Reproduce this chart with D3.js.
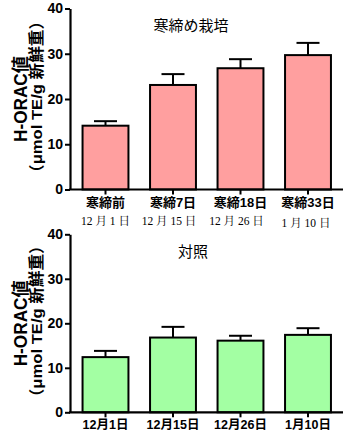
<!DOCTYPE html>
<html><head><meta charset="utf-8">
<script src="https://cdn.jsdelivr.net/npm/d3@7"></script>
<style>body{margin:0;background:#fff}svg{display:block}</style>
</head><body>
<svg id="c" width="350" height="437"></svg>
<script>
const topCategories = ["寒締前", "寒締7日", "寒締18日", "寒締33日"];
const topDates = ["12 月 1 日", "12 月 15 日", "12 月 26 日", "1 月 10 日"];
const topValues = [14.1, 23.1, 26.8, 29.7];
const topErrors = [1.0, 2.4, 2.0, 2.7];
const bottomCategories = ["12月1日", "12月15日", "12月26日", "1月10日"];
const bottomValues = [12.4, 16.8, 16.1, 17.4];
const bottomErrors = [1.4, 2.4, 1.1, 1.5];
const yTicks = [0, 10, 20, 30, 40];
const topTitle = "寒締め栽培";
const bottomTitle = "対照";
const yLabel1 = "H-ORAC値";
const yLabel2 = "（μmol TE/g 新鮮重）";

const svg = d3.select("#c");
const sans = "Arial, 'Liberation Sans', 'Noto Sans CJK JP', sans-serif";
const serif = "'Liberation Serif', 'Noto Serif CJK JP', 'Noto Sans CJK JP', serif";

function panel(cfg) {
  const g = svg.append("g");
  const x = d3.scaleBand().domain(cfg.cats).range([71.75, 341.75]).paddingInner(0.32).paddingOuter(0.16);
  const y = d3.scaleLinear().domain([0, 40]).range([cfg.y0, cfg.y40]);
  g.selectAll("rect.bar").data(cfg.values).join("rect")
    .attr("x", (d, i) => x(cfg.cats[i]))
    .attr("y", d => y(d))
    .attr("width", x.bandwidth())
    .attr("height", d => y(0) - y(d))
    .attr("fill", cfg.color).attr("stroke", "#000").attr("stroke-width", 2);
  const cap = 11.5;
  cfg.values.forEach((v, i) => {
    const cx = x(cfg.cats[i]) + x.bandwidth() / 2;
    g.append("line").attr("x1", cx).attr("x2", cx).attr("y1", y(v)).attr("y2", y(v + cfg.errs[i]))
      .attr("stroke", "#000").attr("stroke-width", 2);
    g.append("line").attr("x1", cx - cap).attr("x2", cx + cap).attr("y1", y(v + cfg.errs[i])).attr("y2", y(v + cfg.errs[i]))
      .attr("stroke", "#000").attr("stroke-width", 2);
  });
  const ya = g.append("g").attr("transform", "translate(70,0)")
    .call(d3.axisLeft(y).tickValues(yTicks).tickSize(5).tickPadding(2).tickSizeOuter(0));
  ya.select(".domain").attr("stroke-width", 2.2);
  ya.selectAll(".tick line").attr("stroke-width", 2);
  ya.selectAll("text").attr("font-family", sans).attr("font-size", 14).attr("font-weight", "bold").attr("fill", "#000");
  const xa = g.append("g").attr("transform", `translate(0,${cfg.y0})`)
    .call(d3.axisBottom(x).tickSize(5).tickSizeOuter(0).tickPadding(3));
  xa.select(".domain").attr("d", `M69,0H343`).attr("stroke-width", 2.2);
  xa.selectAll(".tick line").attr("stroke-width", 2);
  xa.selectAll("text").attr("font-family", sans).attr("font-size", cfg.xfs).attr("font-weight", "bold").attr("fill", "#000");
  g.append("text").attr("x", cfg.tx).attr("y", cfg.ty).attr("text-anchor", "middle")
    .attr("font-family", "'Noto Sans CJK JP', sans-serif").attr("font-size", 15).text(cfg.title);
  const cy = (cfg.y0 + cfg.y40) / 2;
  g.append("text").attr("transform", `translate(27,${cy}) rotate(-90)`).attr("text-anchor", "middle")
    .attr("font-family", sans).attr("font-size", 18).attr("font-weight", "bold")
    .attr("textLength", 86).attr("lengthAdjust", "spacingAndGlyphs").text(yLabel1);
  g.append("text").attr("transform", `translate(41.5,${cy - 2}) rotate(-90)`).attr("text-anchor", "middle")
    .attr("font-family", sans).attr("font-size", 15.5).attr("font-weight", "bold")
    .attr("textLength", 168).attr("lengthAdjust", "spacingAndGlyphs").text(yLabel2);
  return x;
}

const xt = panel({cats: topCategories, values: topValues, errs: topErrors, y0: 189.5, y40: 8.5,
  color: "#FF9F9F", title: topTitle, tx: 191, ty: 31, xfs: 13});
svg.append("g").selectAll("text").data(topDates).join("text")
  .attr("x", (d, i) => xt(topCategories[i]) + xt.bandwidth() / 2 - (i === 0 ? 0 : i === 3 ? 2 : 4))
  .attr("y", (d, i) => i === 3 ? 227 : 225)
  .attr("text-anchor", "middle").attr("font-family", serif).attr("font-size", 11.5).text(d => d);

panel({cats: bottomCategories, values: bottomValues, errs: bottomErrors, y0: 412.3, y40: 234.3,
  color: "#A3FFA3", title: bottomTitle, tx: 193, ty: 257, xfs: 12.5});
</script>
</body></html>
